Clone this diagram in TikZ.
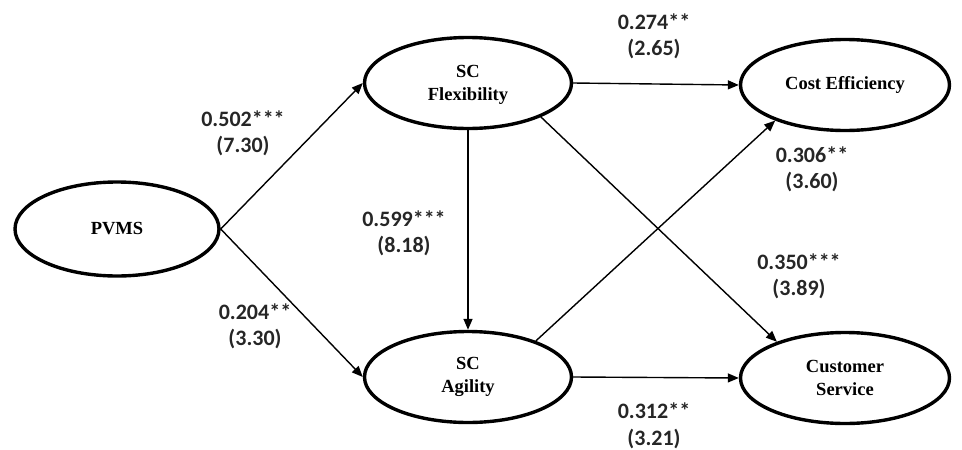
\documentclass[tikz,border=0pt]{standalone}
\usepackage{fontspec}
\setmainfont{Liberation Serif}
\newfontfamily\lblfont{Carlito}
\usetikzlibrary{shapes.geometric,arrows.meta}
\tikzset{
  construct/.style={ellipse,draw,line width=3.4pt,inner sep=0pt,align=center,
    font=\fontsize{18.5}{23}\selectfont\bfseries},
  path/.style={line width=1.4pt,-{Triangle[length=11pt,width=9pt]}},
  coef/.style={align=center,inner sep=0pt,text=black!85,font=\lblfont\bfseries\fontsize{22}{26.5}\selectfont}
}
\begin{document}
\begin{tikzpicture}[x=1pt,y=-1pt]
\useasboundingbox (0,0) rectangle (962,450);
\node[construct,minimum width=204pt,minimum height=94pt] (pvms) at (117,229) {PVMS};
\node[construct,minimum width=207pt,minimum height=91pt] (flex) at (468,83) {\strut SC\\Flexibility};
\node[construct,minimum width=207pt,minimum height=91pt] (agil) at (468,377) {SC\\Agility};
\node[construct,minimum width=209pt,minimum height=91pt] (cost) at (845,85) {Cost Efficiency};
\node[construct,minimum width=209pt,minimum height=91pt] (cust) at (845,378) {Customer\\Service};

\draw[path] (pvms.east) -- (flex.west);
\draw[path] (pvms.east) -- (agil.west);
\draw[path] (flex.south) -- (agil.north);
\draw[path] (flex.east) -- (cost.west);
\draw[path] (flex.-25) -- (cust.152);
\draw[path] (agil.28) -- (cost.207);
\draw[path] (agil.east) -- (cust.west);

\node[coef] (c1) at (243,133.5) {0.502***\\(7.30)};
\node[coef] (c2) at (255,326.5) {0.204**\\(3.30)};
\node[coef] (c3) at (404,233.5) {0.599***\\(8.18)};
\node[coef] (c4) at (654,36.5) {0.274**\\(2.65)};
\node[coef] (c5) at (812,169.5) {0.306**\\(3.60)};
\node[coef] (c6) at (799,276.5) {0.350***\\(3.89)};
\node[coef] (c7) at (654,426) {0.312**\\(3.21)};
\end{tikzpicture}
\end{document}
